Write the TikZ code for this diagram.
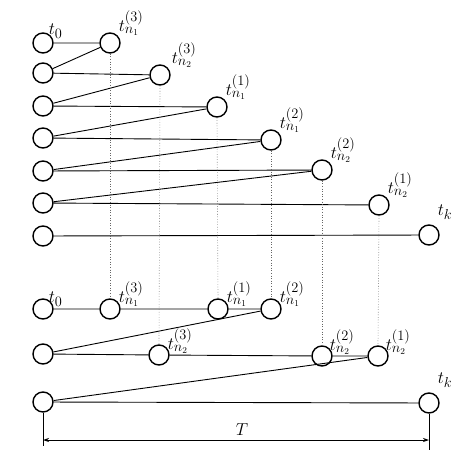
\documentclass[tikz,border=0pt]{standalone}
\usetikzlibrary{arrows.meta}
\begin{document}
\begin{tikzpicture}[x=1pt,y=-1pt,
  st/.style={circle,draw,line width=1.4pt,minimum size=20pt,inner sep=0pt},
  lbl/.style={anchor=south west,inner sep=0pt,font=\fontsize{19}{22}\selectfont},
  conn/.style={line width=0.9pt},
  dots/.style={dotted,line width=0.6pt,gray!80!black},
  dim/.style={line width=0.8pt}]
\useasboundingbox (0,0) rectangle (474,474);
% top section
\node[st] (L1) at (43,43) {};
\node[st] (L2) at (43,73) {};
\node[st] (L3) at (43,106) {};
\node[st] (L4) at (43,138) {};
\node[st] (L5) at (43,171) {};
\node[st] (L6) at (43,203) {};
\node[st] (L7) at (43,236) {};
\node[st] (A1) at (110,43) {};
\node[st] (A2) at (160,75) {};
\node[st] (A3) at (217,107) {};
\node[st] (A4) at (271,140) {};
\node[st] (A5) at (322,170) {};
\node[st] (A6) at (379,205) {};
\node[st] (A7) at (429,235) {};
\draw[conn] (L1) -- (A1) -- (L2) -- (A2) -- (L3) -- (A3) -- (L4) -- (A4) -- (L5) -- (A5) -- (L6) -- (A6);
\draw[conn] (L7) -- (A7);
% bottom section
\node[st] (B0) at (43,309) {};
\node[st] (B1) at (110,309) {};
\node[st] (B2) at (218,309) {};
\node[st] (B3) at (271,309) {};
\node[st] (C0) at (43,354) {};
\node[st] (C1) at (159,355) {};
\node[st] (C2) at (322,356) {};
\node[st] (C3) at (378,356) {};
\node[st] (D0) at (43,402) {};
\node[st] (D1) at (429,403) {};
\draw[conn] (B0) -- (B1) -- (B2) -- (B3) -- (C0) -- (C1) -- (C2) -- (C3) -- (D0) -- (D1);
% dotted verticals
\draw[dots] (A1.south) -- (B1.north);
\draw[dots] (A2.south) -- (C1.north);
\draw[dots] (A3.south) -- (B2.north);
\draw[dots] (A4.south) -- (B3.north);
\draw[dots] (A5.south) -- (C2.north);
\draw[dots] (A6.south) -- (C3.north);
% labels top
\node[lbl,xshift=-2pt,yshift=-3pt] (tl0) at (L1.north east) {$t_0$};
\node[lbl,xshift=1pt] (tl1) at (A1.north east) {$t_{n_1}^{(3)}$};
\node[lbl,xshift=4pt] (tl2) at (A2.north east) {$t_{n_2}^{(3)}$};
\node[lbl,xshift=1pt] (tl3) at (A3.north east) {$t_{n_1}^{(1)}$};
\node[lbl,xshift=1pt] (tl4) at (A4.north east) {$t_{n_1}^{(2)}$};
\node[lbl,xshift=1pt] (tl5) at (A5.north east) {$t_{n_2}^{(2)}$};
\node[lbl,xshift=1pt] (tl6) at (A6.north east) {$t_{n_2}^{(1)}$};
\node[lbl,xshift=1pt,yshift=8pt] (tl7) at (A7.north east) {$t_k$};
% labels bottom
\node[lbl,xshift=-2pt,yshift=-5pt] (bl0) at (B0.north east) {$t_0$};
\node[lbl,xshift=1pt,yshift=-5pt] (bl1) at (B1.north east) {$t_{n_1}^{(3)}$};
\node[lbl,xshift=1pt,yshift=-5pt] (bl2) at (B2.north east) {$t_{n_1}^{(1)}$};
\node[lbl,xshift=1pt,yshift=-5pt] (bl3) at (B3.north east) {$t_{n_1}^{(2)}$};
\node[lbl,xshift=1pt,yshift=-6pt] (cl1) at (C1.north east) {$t_{n_2}^{(3)}$};
\node[lbl,xshift=0pt,yshift=-6pt] (cl2) at (C2.north east) {$t_{n_2}^{(2)}$};
\node[lbl,xshift=0pt,yshift=-6pt] (cl3) at (C3.north east) {$t_{n_2}^{(1)}$};
\node[lbl,xshift=1pt,yshift=8pt] (dl1) at (D1.north east) {$t_k$};
% dimension
\coordinate (e0) at (43,446);
\coordinate (e1) at (429,450);
\coordinate (a0) at (43,440);
\coordinate (a1) at (429,440);
\draw[dim] (D0.south) -- (e0);
\draw[dim] (D1.south) -- (e1);
\draw[dim,{Stealth[length=6pt,width=4pt]}-{Stealth[length=6pt,width=4pt]}] (a0) -- (a1);
\node[font=\fontsize{19}{22}\selectfont] (T) at (242,430) {$T$};
\end{tikzpicture}
\end{document}
